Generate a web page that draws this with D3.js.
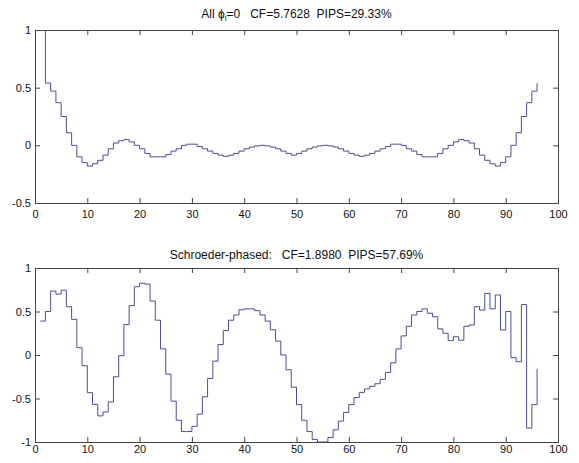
<!DOCTYPE html>
<meta charset="utf-8">
<style>
body { margin: 0; background: #fff; }
text { font-family: "Liberation Sans", Arial, sans-serif; font-size: 11px; fill: #111; }
.axis path { display: none; }
.axis line { stroke: #444; }
.frame { fill: none; stroke: #444; stroke-width: 1; }
.stairs { fill: none; stroke: #4c4c9a; stroke-width: 1; }
.title { white-space: pre; font-size: 12px; }
</style>
<svg width="579" height="463"></svg>
<script src="https://d3js.org/d3.v7.min.js"></script>
<script>

// x ticks shared by both panels
var xTicks = [0, 10, 20, 30, 40, 50, 60, 70, 80, 90, 100];
var topYTicks = [-0.5, 0, 0.5, 1];
var botYTicks = [-1, -0.5, 0, 0.5, 1];

// all phases zero (samples 1..96)
var allZero = [1.0, 0.54, 0.47, 0.37, 0.25, 0.11, 0.0, -0.10, -0.15, -0.18,
  -0.16, -0.13, -0.085, -0.03, 0.02, 0.04, 0.05, 0.03, 0.0, -0.03,
  -0.07, -0.10, -0.10, -0.10, -0.08, -0.05, -0.03, 0.0, 0.01, 0.01,
  -0.01, -0.03, -0.05, -0.07, -0.085, -0.095, -0.085, -0.07, -0.05, -0.03,
  -0.015, -0.005, 0.0, -0.005, -0.015, -0.03, -0.05, -0.07, -0.085, -0.07,
  -0.05, -0.03, -0.015, -0.005, 0.0, -0.005, -0.015, -0.03, -0.05, -0.07,
  -0.085, -0.095, -0.085, -0.07, -0.05, -0.03, -0.01, 0.01, 0.01, 0.0,
  -0.03, -0.05, -0.08, -0.10, -0.10, -0.10, -0.07, -0.03, 0.0, 0.03,
  0.05, 0.04, 0.02, -0.03, -0.085, -0.13, -0.16, -0.18, -0.15, -0.10,
  0.0, 0.11, 0.25, 0.37, 0.47, 0.54];

// schroeder phased (samples 1..96)
var schroeder = [0.39, 0.50, 0.735, 0.70, 0.745, 0.555, 0.41, 0.084, -0.123, -0.433,
  -0.567, -0.70, -0.655, -0.54, -0.25, -0.008, 0.35, 0.567, 0.785, 0.825,
  0.815, 0.62, 0.40, 0.07, -0.22, -0.53, -0.75, -0.88, -0.88, -0.82,
  -0.68, -0.48, -0.27, -0.07, 0.12, 0.28, 0.40, 0.46, 0.52, 0.53,
  0.53, 0.51, 0.46, 0.39, 0.29, 0.16, 0.0, -0.17, -0.37, -0.57,
  -0.75, -0.88, -0.97, -1.0, -1.0, -0.95, -0.86, -0.76, -0.66, -0.57,
  -0.49, -0.43, -0.39, -0.36, -0.33, -0.28, -0.20, -0.09, 0.07, 0.22,
  0.33, 0.46, 0.50, 0.53, 0.48, 0.44, 0.30, 0.25, 0.165, 0.21,
  0.17, 0.33, 0.345, 0.555, 0.516, 0.708, 0.53, 0.69, 0.287, 0.50,
  -0.03, -0.077, 0.58, -0.84, -0.57, -0.16];

var svg = d3.select("svg");

function panel(opts) {
  var left = 35, right = 558,
      width = right - left, height = opts.bottom - opts.top;

  var x = d3.scaleLinear().domain([0, 100]).range([0, width]);
  var y = d3.scaleLinear().domain(opts.yDomain).range([height, 0]);

  var g = svg.append("g")
      .attr("transform", "translate(" + left + "," + opts.top + ")");

  g.append("clipPath").attr("id", opts.id)
    .append("rect").attr("width", width).attr("height", height);

  var fmt = function(d) { return String(d); };

  // bottom x axis, inward ticks
  var xb = g.append("g")
      .attr("class", "axis")
      .attr("transform", "translate(0," + height + ")")
      .call(d3.axisBottom(x).tickValues(xTicks).tickSize(-5).tickSizeOuter(0).tickPadding(opts.xPad).tickFormat(fmt));
  xb.selectAll("text").attr("dy", "0.71em");

  g.append("g")
      .attr("class", "axis")
      .call(d3.axisTop(x).tickValues(xTicks).tickSize(-5).tickSizeOuter(0).tickFormat(""));

  g.append("g")
      .attr("class", "axis")
      .call(d3.axisLeft(y).tickValues(opts.yTicks).tickSize(-5).tickSizeOuter(0).tickPadding(4).tickFormat(fmt));

  g.append("g")
      .attr("class", "axis")
      .attr("transform", "translate(" + width + ",0)")
      .call(d3.axisRight(y).tickValues(opts.yTicks).tickSize(-5).tickSizeOuter(0).tickFormat(""));

  g.append("rect")
      .attr("class", "frame")
      .attr("x", 0.5).attr("y", 0.5)
      .attr("width", width).attr("height", height);

  var line = d3.line()
      .x(function(d, i) { return x(i + 1); })
      .y(function(d) { return y(d); })
      .curve(d3.curveStepAfter);

  g.append("path")
      .datum(opts.values)
      .attr("class", "stairs")
      .attr("clip-path", "url(#" + opts.id + ")")
      .attr("d", line);

  return g;
}

panel({ id: "c1", top: 30, bottom: 203, yDomain: [-0.5, 1], yTicks: topYTicks, values: allZero, xPad: 7 });
panel({ id: "c2", top: 268, bottom: 442, yDomain: [-1, 1], yTicks: botYTicks, values: schroeder, xPad: 3 });

// titles
var t1 = svg.append("text")
    .attr("class", "title")
    .attr("x", 296.5).attr("y", 18)
    .attr("text-anchor", "middle");
t1.append("tspan").text("All \u03d5");
t1.append("tspan").attr("dy", 3).attr("font-size", "8px").text("l");
t1.append("tspan").attr("dy", -3).text("=0   CF=5.7628  PIPS=29.33%");

svg.append("text")
    .attr("class", "title")
    .attr("x", 296.5).attr("y", 259)
    .attr("text-anchor", "middle")
    .text("Schroeder-phased:   CF=1.8980  PIPS=57.69%");

</script>
